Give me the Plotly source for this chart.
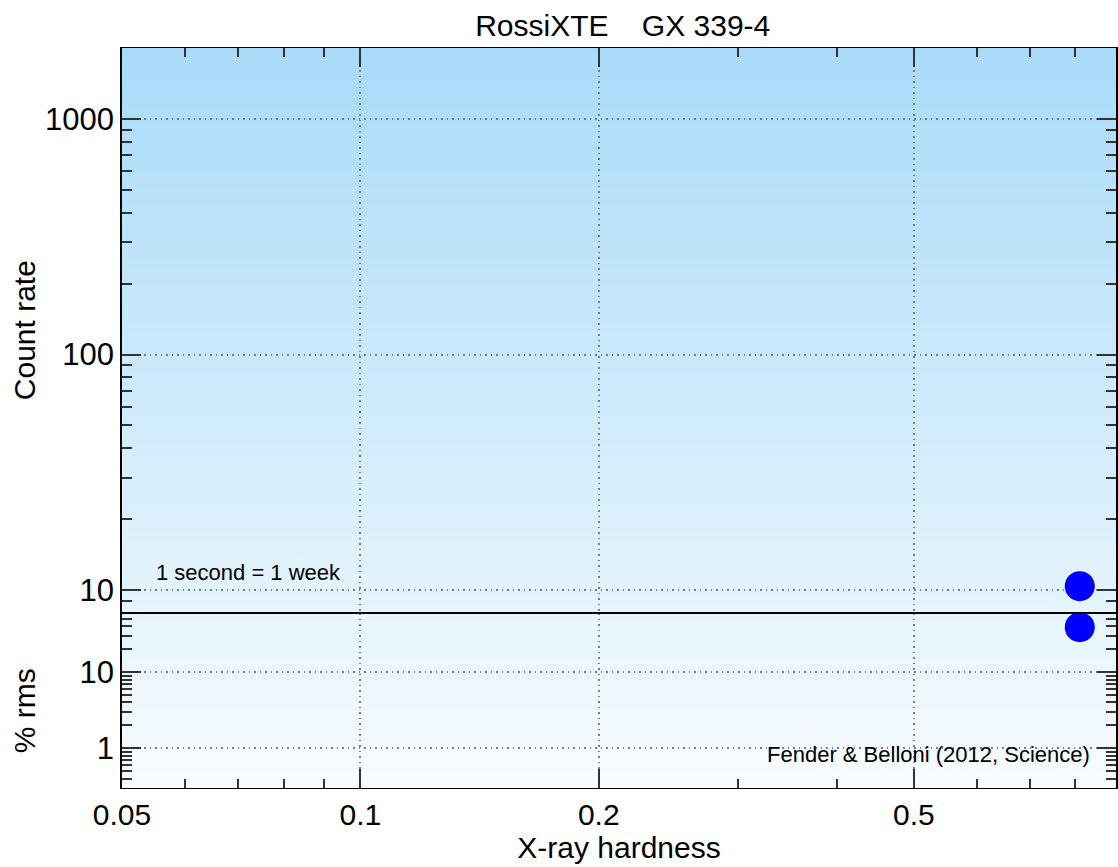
import math
import plotly.graph_objects as go

# ---- data ----
hardness = [0.81]
count_rate = [10.4]
rms_percent = [39]

x_major = [0.05, 0.1, 0.2, 0.5]
x_major_labels = ["0.05", "0.1", "0.2", "0.5"]
x_minor = [0.06, 0.07, 0.08, 0.09, 0.3, 0.4, 0.6, 0.7, 0.8, 0.9]

y1_major = [10, 100, 1000]
y1_major_labels = ["10", "100", "1000"]
y1_minor = [m * d for d in (1, 10, 100, 1000) for m in range(2, 10)]

y2_major = [1, 10]
y2_major_labels = ["1", "10"]
y2_minor = [m * d for d in (0.1, 1, 10) for m in range(2, 10)]

FONT = "Liberation Sans, Arial, sans-serif"
W, H = 1118, 867
L, R, T, B = 122, 0, 48, 79
plot_w = W - L - R
plot_h = H - T - B
split = (613 - T) / plot_h
dom_split = 1 - split

fig = go.Figure()

fig.add_trace(go.Scatter(x=hardness, y=count_rate, mode="markers",
                         marker=dict(color="#0000ff", size=30, line=dict(width=0)),
                         xaxis="x2", yaxis="y2", showlegend=False, cliponaxis=False))
fig.add_trace(go.Scatter(x=hardness, y=rms_percent, mode="markers",
                         marker=dict(color="#0000ff", size=30, line=dict(width=0)),
                         xaxis="x", yaxis="y", showlegend=False, cliponaxis=False))

# background gradient stripes (overlapping to avoid seams)
shapes = []
n = 150
c0 = (169, 219, 249)
c1 = (248, 252, 254)
for i in range(n):
    f = i / (n - 1)
    c = tuple(round(c0[k] + (c1[k] - c0[k]) * f) for k in range(3))
    shapes.append(dict(type="rect", xref="paper", yref="paper",
                       x0=0, x1=1, y0=max(0, 1 - (i + 2) / n), y1=1 - i / n,
                       fillcolor="rgb(%d,%d,%d)" % c, line=dict(width=0), layer="below"))

GRID = dict(showgrid=True, gridcolor="#6f7f8c", griddash="1.5px,4px", gridwidth=1.5)
TICK_MAJ = dict(ticks="inside", ticklen=19, tickwidth=1.5, tickcolor="#333")
MINOR = dict(ticks="inside", ticklen=10, tickwidth=1.5, tickcolor="#333", showgrid=False)

common_x = dict(type="log", range=[math.log10(0.05), math.log10(0.9)],
                tickvals=x_major, ticktext=x_major_labels,
                showline=True, linecolor="black", linewidth=1.2,
                minor=dict(MINOR, tickvals=x_minor, ticklen=9),
                zeroline=False, **TICK_MAJ, **GRID)

fig.update_layout(
    width=W, height=H,
    margin=dict(l=L, r=R, t=T, b=B),
    paper_bgcolor="white", plot_bgcolor="rgba(0,0,0,0)",
    font=dict(family=FONT, color="black", size=31),
    shapes=shapes,
    title=dict(text="RossiXTE    GX 339-4", x=0.557, xanchor="center", y=0.971, yanchor="middle",
               font=dict(size=30, family=FONT)),
    xaxis=dict(common_x, anchor="y", mirror=True, showticklabels=True,
               tickfont=dict(size=30), title=dict(text="X-ray hardness", font=dict(size=30), standoff=0)),
    xaxis2=dict(common_x, anchor="y2", matches="x", side="top", mirror=True, showticklabels=False),
    yaxis2=dict(type="log", domain=[dom_split, 1], range=[math.log10(8), math.log10(2000)],
                tickvals=y1_major, ticktext=y1_major_labels,
                showline=True, linecolor="black", linewidth=1.5, mirror="allticks",
                minor=dict(MINOR, tickvals=y1_minor),
                zeroline=False, tickfont=dict(size=31), **TICK_MAJ, **GRID),
    yaxis=dict(type="log", domain=[0, dom_split], range=[math.log10(0.3), math.log10(60)],
               tickvals=y2_major, ticktext=y2_major_labels,
               showline=True, linecolor="black", linewidth=1.5, mirror="allticks",
               minor=dict(MINOR, tickvals=y2_minor),
               zeroline=False, tickfont=dict(size=31), **TICK_MAJ, **GRID),
    annotations=[
        dict(text="Count rate", xref="paper", yref="paper", x=(24 - L) / plot_w,
             y=1 - (330 - T) / plot_h, xanchor="center", yanchor="middle", textangle=-90,
             showarrow=False, font=dict(size=30, family=FONT)),
        dict(text="% rms", xref="paper", yref="paper", x=(24 - L) / plot_w,
             y=1 - (711 - T) / plot_h, xanchor="center", yanchor="middle", textangle=-90,
             showarrow=False, font=dict(size=30, family=FONT)),
        dict(text="1 second = 1 week", xref="paper", yref="paper", x=(154 - L) / plot_w,
             y=1 - (572 - T) / plot_h, xanchor="left", yanchor="middle", showarrow=False,
             font=dict(size=22, family=FONT)),
        dict(text="Fender & Belloni (2012, Science)", xref="paper", yref="paper",
             x=(1094 - L) / plot_w, y=1 - (754 - T) / plot_h, xanchor="right", yanchor="middle",
             showarrow=False, font=dict(size=22, family=FONT)),
    ],
)

fig.write_html("out.html")
